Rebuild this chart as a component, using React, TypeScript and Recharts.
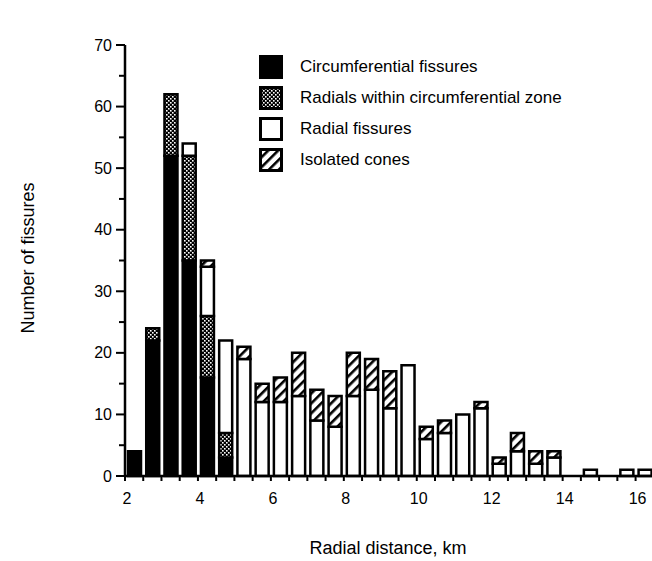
import React from 'react';
import { Bar, BarChart, XAxis, YAxis } from 'recharts';

// bin centres, 0.5 km bins
const binCenters = [
    2.25, 2.75, 3.25, 3.75, 4.25, 4.75, 5.25, 5.75, 6.25, 6.75, 7.25, 7.75, 8.25, 8.75, 9.25,
    9.75, 10.25, 10.75, 11.25, 11.75, 12.25, 12.75, 13.25, 13.75, 14.25, 14.75, 15.25, 15.75, 16.25,
];
const circumferential = [4, 22, 52, 35, 16, 3, 0, 0, 0, 0, 0, 0, 0, 0, 0, 0, 0, 0, 0, 0, 0, 0, 0, 0, 0, 0, 0, 0, 0];
const radialsWithin = [0, 2, 10, 17, 10, 4, 0, 0, 0, 0, 0, 0, 0, 0, 0, 0, 0, 0, 0, 0, 0, 0, 0, 0, 0, 0, 0, 0, 0];
const radial = [0, 0, 0, 2, 8, 15, 19, 12, 12, 13, 9, 8, 13, 14, 11, 18, 6, 7, 10, 11, 2, 4, 2, 3, 0, 1, 0, 1, 1];
const isolated = [0, 0, 0, 0, 1, 0, 2, 3, 4, 7, 5, 5, 7, 5, 6, 0, 2, 2, 0, 1, 1, 3, 2, 1, 0, 0, 0, 0, 0];

const xTicks = [2, 2.5, 3, 3.5, 4, 4.5, 5, 5.5, 6, 6.5, 7, 7.5, 8, 8.5, 9, 9.5, 10, 10.5, 11, 11.5, 12, 12.5, 13, 13.5, 14, 14.5, 15, 15.5, 16];
const xLabels = [2, 4, 6, 8, 10, 12, 14, 16];
const yTicks = [0, 5, 10, 15, 20, 25, 30, 35, 40, 45, 50, 55, 60, 65, 70];
const yLabels = [0, 10, 20, 30, 40, 50, 60, 70];

const legendItems = [
    { label: 'Circumferential fissures', fill: '#000' },
    { label: 'Radials within circumferential zone', fill: 'url(#lgCross)' },
    { label: 'Radial fissures', fill: '#fff' },
    { label: 'Isolated cones', fill: 'url(#lgHatch)' },
];

const FONT = '"Liberation Sans", Arial, Helvetica, sans-serif';

const data = binCenters.map((x, i) => ({
    x,
    circ: circumferential[i],
    within: radialsWithin[i],
    radial: radial[i],
    isolated: isolated[i],
}));

function PatternDefs({ prefix }: { prefix: string }) {
    return (
        <defs>
            <pattern id={`${prefix}Cross`} width="4" height="4" patternUnits="userSpaceOnUse">
                <rect width="4" height="4" fill="#000" />
                <rect x="0" y="0" width="1.6" height="1.6" fill="#fff" />
                <rect x="2" y="2" width="1.6" height="1.6" fill="#fff" />
            </pattern>
            <pattern id={`${prefix}Hatch`} width="7" height="7" patternUnits="userSpaceOnUse" patternTransform="rotate(-45)">
                <rect width="7" height="7" fill="#fff" />
                <rect x="0" y="0" width="7" height="2.6" fill="#000" />
            </pattern>
        </defs>
    );
}

const YTick = (props: any) => {
    const { x, y, payload } = props;
    const major = yLabels.includes(payload.value);
    return (
        <g>
            <line x1={x} y1={y} x2={x - (major ? 9 : 6)} y2={y} stroke="#000" strokeWidth={2} />
            {major && (
                <text x={x - 13} y={y} dy={5.5} textAnchor="end" fontSize={16} fontFamily={FONT} fill="#000">
                    {payload.value}
                </text>
            )}
        </g>
    );
};

const XTick = (props: any) => {
    const { x, y, payload } = props;
    const labelled = xLabels.includes(payload.value);
    return (
        <g>
            <line x1={x} y1={y} x2={x} y2={y + 5} stroke="#000" strokeWidth={2} />
            {labelled && (
                <text x={x + 2} y={y + 28} textAnchor="middle" fontSize={16} fontFamily={FONT} fill="#000">
                    {payload.value}
                </text>
            )}
        </g>
    );
};

export default function App() {
    return (
        <div style={{ position: 'absolute', left: 0, top: 0, width: 652, height: 561, background: '#fff', fontFamily: FONT }}>
            <BarChart width={652} height={561} data={data} margin={{ top: 45, right: 0, bottom: 0, left: 0 }}>
                <PatternDefs prefix="bar" />
                <XAxis
                    type="number"
                    dataKey="x"
                    domain={[2, 16.45]}
                    ticks={xTicks}
                    allowDataOverflow
                    height={85}
                    tickSize={0}
                    tickMargin={0}
                    tick={<XTick />}
                    tickLine={false}
                    axisLine={{ stroke: '#000', strokeWidth: 2.5 }}
                    interval={0}
                />
                <YAxis
                    type="number"
                    domain={[0, 70]}
                    ticks={yTicks}
                    width={125}
                    tickSize={0}
                    tickMargin={0}
                    tick={<YTick />}
                    tickLine={false}
                    axisLine={{ stroke: '#000', strokeWidth: 2.5 }}
                    interval={0}
                />
                <Bar dataKey="circ" stackId="a" fill="#000" stroke="#000" strokeWidth={2.5} barSize={13} isAnimationActive={false} />
                <Bar dataKey="within" stackId="a" fill="url(#barCross)" stroke="#000" strokeWidth={2.5} barSize={13} isAnimationActive={false} />
                <Bar dataKey="radial" stackId="a" fill="#fff" stroke="#000" strokeWidth={2.5} barSize={13} isAnimationActive={false} />
                <Bar dataKey="isolated" stackId="a" fill="url(#barHatch)" stroke="#000" strokeWidth={2.5} barSize={13} isAnimationActive={false} />
            </BarChart>

            {/* legend */}
            <div style={{ position: 'absolute', left: 259, top: 51 }}>
                {legendItems.map((item) => (
                    <div key={item.label} style={{ display: 'flex', alignItems: 'center', height: 31 }}>
                        <svg width={24} height={24} style={{ marginRight: 17 }}>
                            <PatternDefs prefix="lg" />
                            <rect x={1.5} y={1.5} width={21} height={21} fill={item.fill} stroke="#000" strokeWidth={3} />
                        </svg>
                        <span style={{ fontSize: 17, color: '#000', whiteSpace: 'nowrap' }}>{item.label}</span>
                    </div>
                ))}
            </div>

            {/* axis titles */}
            <div style={{ position: 'absolute', left: 388, top: 548, transform: 'translate(-50%, -50%)', fontSize: 18, whiteSpace: 'nowrap' }}>
                Radial distance, km
            </div>
            <div
                style={{
                    position: 'absolute',
                    left: 28,
                    top: 258,
                    transform: 'translate(-50%, -50%) rotate(-90deg)',
                    fontSize: 18,
                    whiteSpace: 'nowrap',
                }}
            >
                Number of fissures
            </div>
        </div>
    );
}
